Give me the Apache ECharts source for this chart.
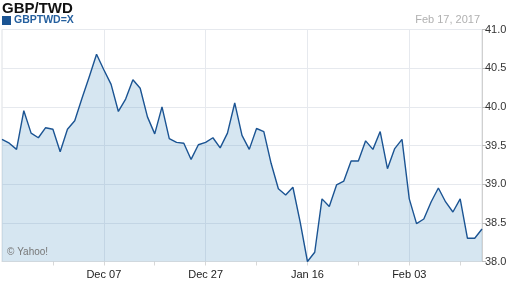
<!DOCTYPE html>
<html><head><meta charset="utf-8">
<script src="https://cdn.jsdelivr.net/npm/echarts@6/dist/echarts.min.js"></script>
<style>html,body{margin:0;padding:0;background:#fff}#c{width:512px;height:288px}</style>
</head><body><div id="c"></div>
<script>
const categories = ['Nov 17','Nov 18','Nov 21','Nov 22','Nov 23','Nov 24','Nov 25','Nov 28','Nov 29','Nov 30',
'Dec 01','Dec 02','Dec 05','Dec 06','Dec 07','Dec 08','Dec 09','Dec 12','Dec 13','Dec 14','Dec 15','Dec 16',
'Dec 19','Dec 20','Dec 21','Dec 22','Dec 23','Dec 26','Dec 27','Dec 28','Dec 29','Dec 30',
'Jan 02','Jan 03','Jan 04','Jan 05','Jan 06','Jan 09','Jan 10','Jan 11','Jan 12','Jan 13','Jan 16',
'Jan 17','Jan 18','Jan 19','Jan 20','Jan 23','Jan 24','Jan 25','Jan 26','Jan 27','Jan 30','Jan 31',
'Feb 01','Feb 02','Feb 03','Feb 06','Feb 07','Feb 08','Feb 09','Feb 10','Feb 13','Feb 14','Feb 15','Feb 16','Feb 17'];
const rates = [39.58,39.53,39.45,39.95,39.66,39.60,39.73,39.71,39.42,39.71,
39.82,40.11,40.39,40.68,40.48,40.29,39.94,40.10,40.35,40.24,39.87,39.65,
40.00,39.59,39.54,39.53,39.32,39.51,39.54,39.60,39.47,39.66,
40.05,39.63,39.45,39.72,39.68,39.27,38.94,38.86,38.96,38.51,38.00,
38.12,38.81,38.71,38.99,39.04,39.30,39.30,39.56,39.45,39.68,39.20,
39.46,39.58,38.81,38.49,38.55,38.77,38.95,38.77,38.64,38.81,38.30,38.30,38.42];
const xTickLabels = ['Dec 07','Dec 27','Jan 16','Feb 03'];
const minorTickEvery = 7;
const yTicks = [38.0,38.5,39.0,39.5,40.0,40.5,41.0];

const FONT = '"Liberation Sans", Arial, sans-serif';
const chart = echarts.init(document.getElementById('c'), null, {renderer:'canvas'});
chart.setOption({
  animation:false,
  backgroundColor:'#fff',
  title:[
    {text:'GBP/TWD', left:2, top:1, padding:0, textStyle:{fontFamily:FONT, fontSize:15, fontWeight:'bold', color:'#111'}},
    {text:'Feb 17, 2017', right:32, top:14, padding:0, textStyle:{fontFamily:FONT, fontSize:11, fontWeight:'normal', color:'#b0b0b0'}},
    {text:'© Yahoo!', left:7, top:247, padding:0, textStyle:{fontFamily:FONT, fontSize:10, fontWeight:'normal', color:'#777'}}
  ],
  legend:{left:2, top:15, padding:0, itemGap:4, itemWidth:9, itemHeight:9, icon:'rect',
    textStyle:{fontFamily:FONT, fontSize:10.5, fontWeight:'bold', color:'#25609f', padding:[0,0,0,-2]},
    data:['GBPTWD=X']},
  grid:{left:2, right:30, top:29.5, bottom:26.5, show:true, borderColor:'#dde0e4', borderWidth:1, backgroundColor:'transparent'},
  xAxis:{type:'category', data:categories, boundaryGap:false,
    axisLine:{show:true, lineStyle:{color:'#e2e2e2'}},
    axisTick:{show:true, length:4, interval:(i)=>i%minorTickEvery===0 && i>0, lineStyle:{color:'#d8d8d8'}},
    axisLabel:{interval:(i,v)=>xTickLabels.includes(v), fontFamily:FONT, fontSize:11, color:'#222', margin:8},
    splitLine:{show:true, interval:(i,v)=>xTickLabels.includes(v), lineStyle:{color:'#e6e9ee'}}
  },
  yAxis:{type:'value', position:'right', min:yTicks[0], max:yTicks[yTicks.length-1], interval:0.5,
    axisLine:{show:true, lineStyle:{color:'#d0d0d0'}},
    axisTick:{show:true, length:4, lineStyle:{color:'#bbb'}},
    axisLabel:{formatter:(v)=>v.toFixed(1), fontFamily:FONT, fontSize:11, color:'#333', margin:3},
    splitLine:{show:true, lineStyle:{color:'#e6e9ee'}}
  },
  series:[{name:'GBPTWD=X', type:'line', data:rates, symbol:'none', smooth:false,
    lineStyle:{color:'#1b5493', width:1.4},
    itemStyle:{color:'#1b5493'},
    areaStyle:{color:'rgba(91,155,199,0.25)', opacity:1, origin:'start'}
  }]
});
</script></body></html>
